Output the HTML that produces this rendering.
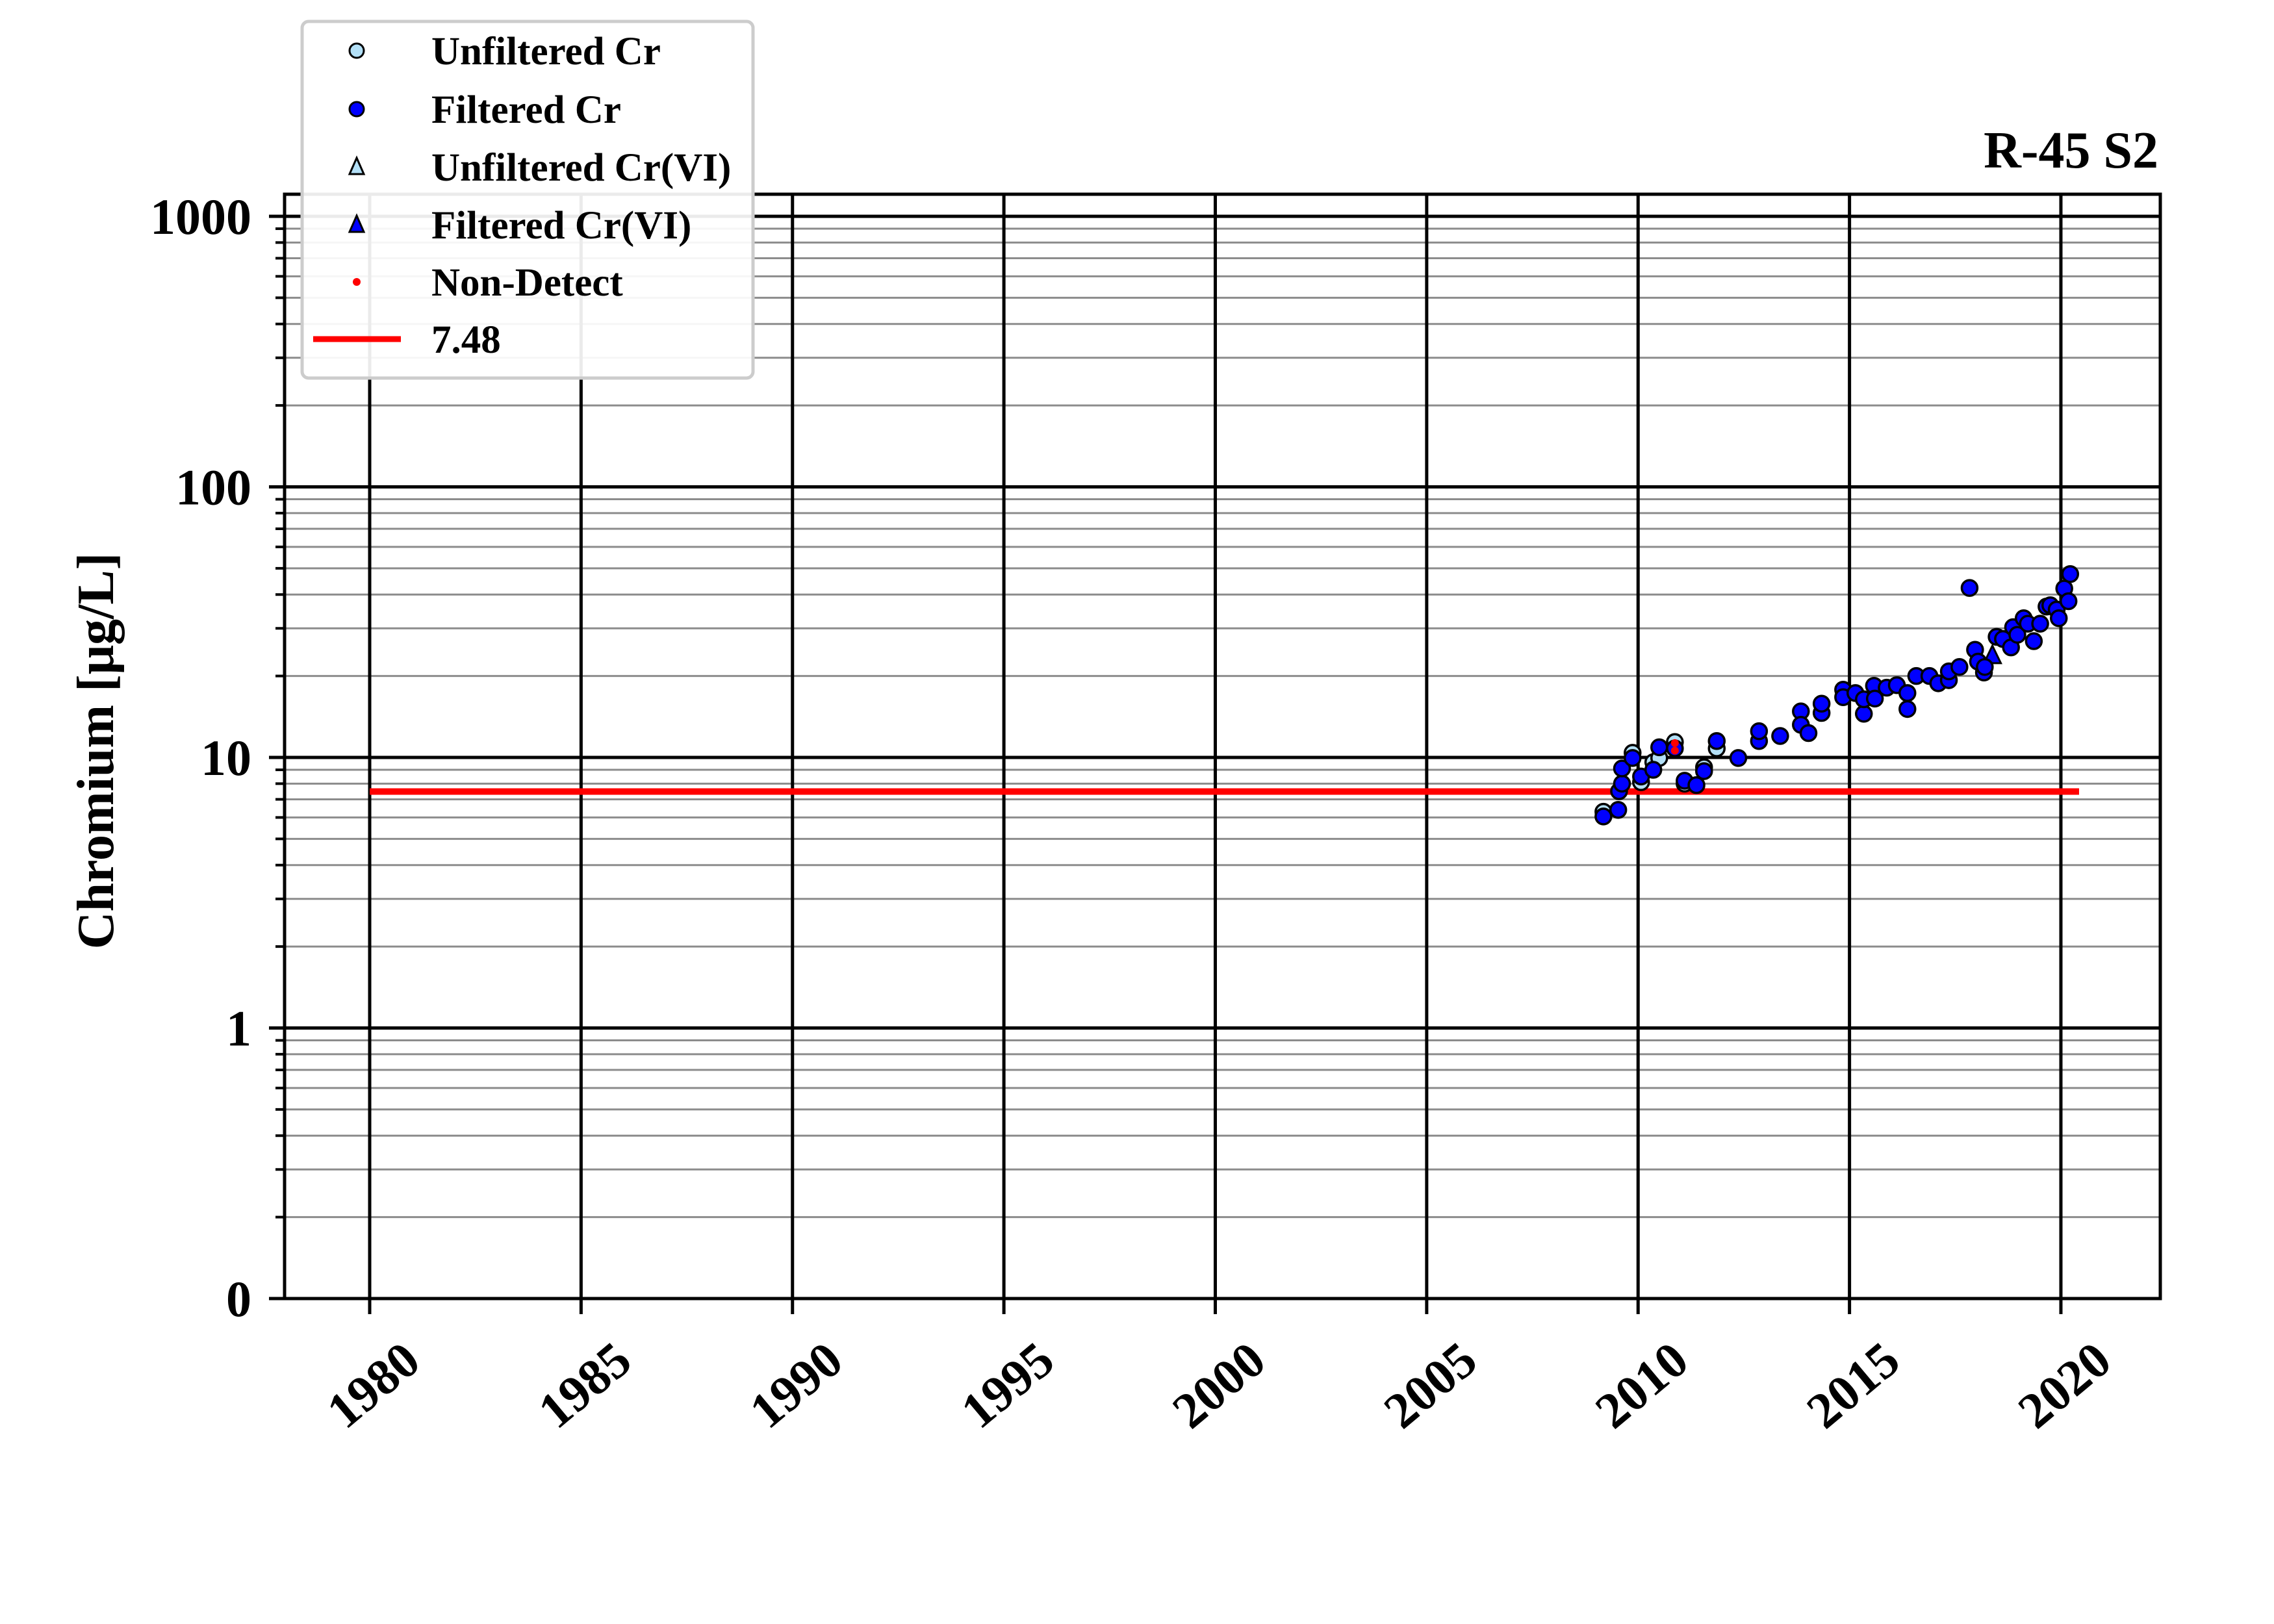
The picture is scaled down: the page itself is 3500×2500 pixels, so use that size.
<!DOCTYPE html>
<html><head><meta charset="utf-8"><title>R-45 S2 Chromium</title>
<style>html,body{margin:0;padding:0;background:#fff}svg{display:block}text{font-family:"Liberation Serif",serif;font-weight:bold}</style>
</head><body>
<svg id="chart" xmlns="http://www.w3.org/2000/svg" width="3500" height="2500" viewBox="0 0 3500 2500">
<rect width="3500" height="2500" fill="#fff"/>
<g id="grid"></g>
<g id="series"></g>
<g id="axes"></g>
<g id="legend"></g>
</svg>
<script>
const xTicks = [1980,1985,1990,1995,2000,2005,2010,2015,2020];
const yTicks = [0.1,1,10,100,1000];
const yTickLabels = ["0","1","10","100","1000"];
const refValue = 7.48;
const refStart = 1980.0;
const refEnd = 2020.43;
const unfilteredYears = [2009.18,2009.87,2010.07,2010.36,2010.5,2010.87,2011.86,2011.56,2011.1];
const unfilteredVals = [6.3,10.4,8.1,9.6,9.95,11.4,10.8,9.2,8.0];
const filteredYears = [2009.18,2009.53,2009.55,2009.62,2009.62,2009.87,2010.07,2010.36,2010.5,2010.87,2011.1,2011.38,2011.56,2011.86,2012.37,2012.86,2012.86,2013.36,2013.85,2013.85,2014.03,2014.34,2014.34,2014.85,2014.85,2015.14,2015.34,2015.34,2015.58,2015.6,2015.88,2016.12,2016.37,2016.37,2016.58,2016.89,2017.1,2017.35,2017.35,2017.6,2017.84,2017.97,2018.04,2018.18,2018.2,2018.48,2018.63,2018.82,2018.87,2018.97,2019.12,2019.22,2019.36,2019.51,2019.66,2019.75,2019.9,2019.95,2020.08,2020.18,2020.22];
const filteredVals = [6.05,6.4,7.5,8.0,9.1,9.95,8.5,9.0,10.9,10.8,8.2,7.9,8.9,11.5,9.95,11.5,12.5,12.0,14.8,13.2,12.3,14.6,15.8,17.8,16.7,17.3,14.5,16.4,18.4,16.5,18.1,18.5,17.3,15.1,20.0,20.0,18.8,19.3,20.8,21.6,42.3,25.0,22.6,20.6,21.6,27.9,27.4,25.5,30.3,28.4,32.7,31.2,26.9,31.2,36.1,36.5,35.2,32.7,42.1,37.8,47.6];
const crviYears = [2018.38];
const crviVals = [23.7];
const ndYears = [2010.87,2010.87];
const ndVals = [11.3,10.6];

const NS="http://www.w3.org/2000/svg";
const L=438,R=3325,T=299,B=1999;
function xs(yr){return 569+(yr-1980)*65.075;}
function ys(v){return 333+(3-Math.log10(v))*416.5;}
function mk(tag,attrs,parent){const e=document.createElementNS(NS,tag);for(const k in attrs)e.setAttribute(k,attrs[k]);parent.appendChild(e);return e;}
const grid=document.getElementById('grid'),series=document.getElementById('series'),axes=document.getElementById('axes'),legend=document.getElementById('legend');

for(let d=-1;d<=3;d++){for(let m=2;m<=9;m++){const v=m*Math.pow(10,d);const y=ys(v);if(y<T||y>B)continue;
 const g=mk('line',{x1:L,x2:R,y1:y,y2:y,stroke:'#8c8c8c','stroke-width':3},grid);
 
 
 const t=mk('line',{x1:L-14,x2:L,y1:y,y2:y,stroke:'#000','stroke-width':4},axes);
 
 }}
yTicks.forEach((v,i)=>{const y=ys(v);
 const g=mk('line',{x1:L,x2:R,y1:y,y2:y,stroke:'#000','stroke-width':5},grid);
 
 
 const t=mk('line',{x1:L-24,x2:L,y1:y,y2:y,stroke:'#000','stroke-width':5},axes);
 
 
 const tx=mk('text',{x:387,y:y+27,'text-anchor':'end','font-size':78,fill:'#000'},axes);
 tx.textContent=yTickLabels[i];
 
 });
xTicks.forEach(yr=>{const x=xs(yr);
 const g=mk('line',{x1:x,x2:x,y1:T,y2:B,stroke:'#000','stroke-width':5},grid);
 
 
 const t=mk('line',{x1:x,x2:x,y1:B,y2:B+24,stroke:'#000','stroke-width':5},axes);
 
 
 const tx=mk('text',{x:x+82,y:2102,'text-anchor':'end','font-size':78,fill:'#000',transform:`rotate(-40 ${x+82} 2102)`},axes);
 tx.textContent=String(yr);
 
 });
const fr=mk('rect',{x:L,y:T,width:R-L,height:B-T,fill:'none',stroke:'#000','stroke-width':5},axes);



const rl=mk('line',{x1:xs(refStart),x2:xs(refEnd),y1:ys(refValue),y2:ys(refValue),stroke:'#ff0000','stroke-width':10},series);



unfilteredYears.forEach((yr,i)=>{const c=mk('circle',{cx:xs(yr),cy:ys(unfilteredVals[i]),r:12,fill:'#b3e0f7',stroke:'#000','stroke-width':3.5},series);
 
 });
crviYears.forEach((yr,i)=>{const x=xs(yr),y=ys(crviVals[i]);
 const p=mk('polygon',{points:`${x},${y-16} ${x-13},${y+11} ${x+13},${y+11}`,fill:'#0000ff',stroke:'#000','stroke-width':3},series);
 
 });
filteredYears.forEach((yr,i)=>{const c=mk('circle',{cx:xs(yr),cy:ys(filteredVals[i]),r:12,fill:'#0000ff',stroke:'#000','stroke-width':3.5},series);
 
 });
ndYears.forEach((yr,i)=>{const c=mk('circle',{cx:xs(yr),cy:ys(ndVals[i]),r:6,fill:'#ff0000'},series);
 
 });

const ti=mk('text',{x:3322,y:258,'text-anchor':'end','font-size':80,fill:'#000'},axes);
ti.textContent='R-45 S2';


const yt=mk('text',{x:0,y:0,'text-anchor':'middle','font-size':80,fill:'#000',transform:'translate(174 1156) rotate(-90)'},axes);
yt.textContent='Chromium [μg/L]';



const lb=mk('rect',{x:465,y:33,width:694,height:549,rx:10,fill:'#fff','fill-opacity':0.92,stroke:'#cccccc','stroke-width':5},legend);


const entries=['Unfiltered Cr','Filtered Cr','Unfiltered Cr(VI)','Filtered Cr(VI)','Non-Detect','7.48'];
const rowY=[78,168,257,346,434,522];
entries.forEach((lab,i)=>{const y=rowY[i],mx=549;let m;
 if(i===0)m=mk('circle',{cx:mx,cy:y,r:11,fill:'#b3e0f7',stroke:'#000','stroke-width':3},legend);
 else if(i===1)m=mk('circle',{cx:mx,cy:y,r:11,fill:'#0000ff',stroke:'#000','stroke-width':3},legend);
 else if(i===2)m=mk('polygon',{points:`${mx},${y-14} ${mx-11},${y+11} ${mx+11},${y+11}`,fill:'#b3e0f7',stroke:'#000','stroke-width':3},legend);
 else if(i===3)m=mk('polygon',{points:`${mx},${y-14} ${mx-11},${y+11} ${mx+11},${y+11}`,fill:'#0000ff',stroke:'#000','stroke-width':3},legend);
 else if(i===4)m=mk('circle',{cx:mx,cy:y,r:6,fill:'#ff0000'},legend);
 else m=mk('line',{x1:482,x2:617,y1:y,y2:y,stroke:'#ff0000','stroke-width':9},legend);
 
 
 const t=mk('text',{x:664,y:y+21,'font-size':61,fill:'#000'},legend);
 t.textContent=lab;
 
 });
</script>
</body></html>
